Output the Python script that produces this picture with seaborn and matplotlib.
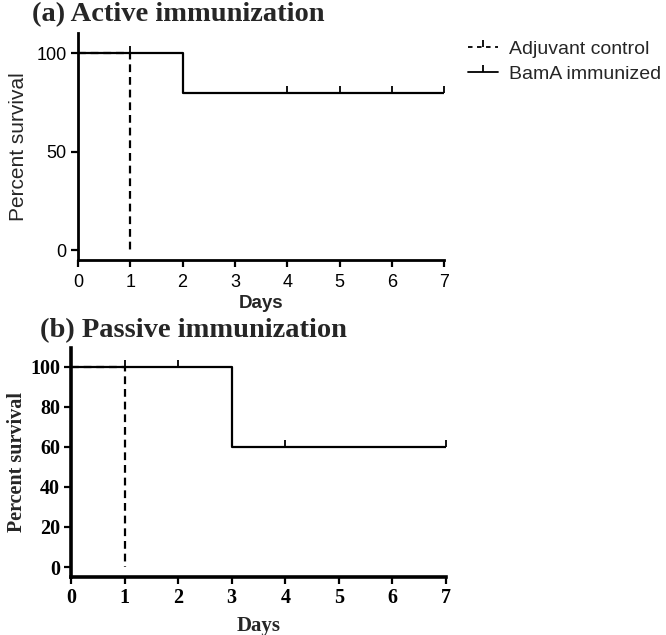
import matplotlib
matplotlib.use("Agg")
import matplotlib.pyplot as plt
from matplotlib.lines import Line2D
import seaborn as sns

# Kaplan-Meier style survival data
a_adj_days = [0, 1]
a_adj_surv = [100, 0]
a_bama_days = [0, 2, 7]
a_bama_surv = [100, 80, 80]
a_bama_cens_days = [1, 4, 5, 6, 7]
a_bama_cens_surv = [100, 80, 80, 80, 80]

b_adj_days = [0, 1]
b_adj_surv = [100, 0]
b_bama_days = [0, 3, 7]
b_bama_surv = [100, 60, 60]
b_bama_cens_days = [1, 2, 4, 7]
b_bama_cens_surv = [100, 100, 60, 60]

a_yticks = [0, 50, 100]
b_yticks = [0, 20, 40, 60, 80, 100]
xticks = [0, 1, 2, 3, 4, 5, 6, 7]

sns.set_style("ticks")

fig = plt.figure(figsize=(6.66, 6.35), dpi=100)
ax1 = fig.add_axes([0.117, 0.591, 0.550, 0.357])
ax2 = fig.add_axes([0.1066, 0.0913, 0.563, 0.361])

lw = 1.6


def draw(ax, adj_d, adj_s, bam_d, bam_s, cd, cs):
    sns.lineplot(x=adj_d, y=adj_s, ax=ax, drawstyle="steps-post", color="black",
                 lw=lw, linestyle=(0, (3.5, 2.2)), estimator=None, sort=False)
    sns.lineplot(x=bam_d, y=bam_s, ax=ax, drawstyle="steps-post", color="black",
                 lw=lw, estimator=None, sort=False)
    ax.plot(cd, cs, linestyle="none", marker=2, markersize=5, mew=1.3, color="black")


draw(ax1, a_adj_days, a_adj_surv, a_bama_days, a_bama_surv, a_bama_cens_days, a_bama_cens_surv)
draw(ax2, b_adj_days, b_adj_surv, b_bama_days, b_bama_surv, b_bama_cens_days, b_bama_cens_surv)

sans = "Liberation Sans"
serif = "Liberation Serif"

# panel (a): sans-serif text
ax1.set_xlim(0, 7)
ax1.set_ylim(-4.7, 110.3)
ax1.set_xticks(xticks)
ax1.set_yticks(a_yticks)
ax1.set_xticklabels([str(t) for t in xticks], fontfamily=sans, fontsize=13)
ax1.set_yticklabels([str(t) for t in a_yticks], fontfamily=sans, fontsize=13)
ax1.set_xlabel("Days", fontfamily=sans, fontweight="bold", fontsize=13.5, labelpad=3)
ax1.set_ylabel("Percent survival", fontfamily=sans, fontsize=15, labelpad=6)

# panel (b): serif text
ax2.set_xlim(0, 7)
ax2.set_ylim(-5, 109.5)
ax2.set_xticks(xticks)
ax2.set_yticks(b_yticks)
ax2.set_xticklabels([str(t) for t in xticks], fontfamily=serif, fontweight="bold", fontsize=14.5)
ax2.set_yticklabels([str(t) for t in b_yticks], fontfamily=serif, fontweight="bold", fontsize=14.5)
ax2.set_xlabel("Days", fontfamily=serif, fontweight="bold", fontsize=15, labelpad=6)
ax2.set_ylabel("Percent survival", fontfamily=serif, fontweight="bold", fontsize=14.5, labelpad=2)

for ax, sw in ((ax1, 2.0), (ax2, 2.6)):
    sns.despine(ax=ax)
    for s in ("left", "bottom"):
        ax.spines[s].set_linewidth(sw)
        ax.spines[s].set_color("black")
    ax.tick_params(direction="out", length=5, width=1.6, colors="black", pad=3)
ax1.tick_params(axis="x", pad=5)

fig.text(32 / 666, 1 - 15 / 635, "(a) Active immunization", fontfamily=serif,
         fontweight="bold", fontsize=20.5, va="center", ha="left")
fig.text(40 / 666, 1 - 331 / 635, "(b) Passive immunization", fontfamily=serif,
         fontweight="bold", fontsize=20.5, va="center", ha="left")

handles = [
    Line2D([0], [0], color="black", lw=1.3, linestyle=(0, (2.5, 2.5)), marker=2, markersize=5, mew=1.3),
    Line2D([0], [0], color="black", lw=1.3, marker=2, markersize=5, mew=1.3),
]
fig.legend(handles, ["Adjuvant control", "BamA immunized"], loc="upper left",
           bbox_to_anchor=(468 / 666, 1 - 40 / 635), frameon=False, handlelength=1.55,
           handletextpad=0.55, borderpad=0, borderaxespad=0, labelspacing=0.4,
           prop={"family": sans, "size": 14})

fig.savefig("out.png", dpi=100)
